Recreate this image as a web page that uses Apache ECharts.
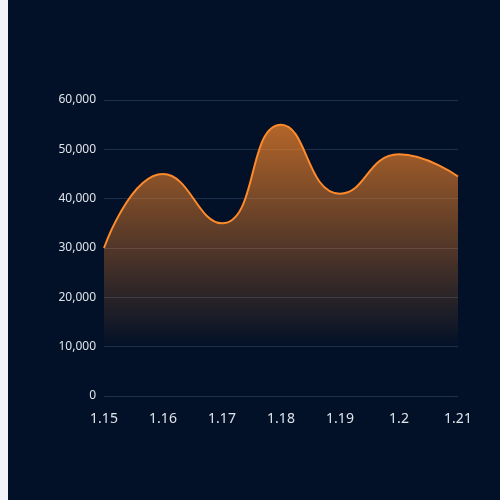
<!DOCTYPE html>
<html lang="en">
<head>
    <meta charset="UTF-8">
    <title>area</title>
    <script src="https://cdn.jsdelivr.net/npm/echarts@6/dist/echarts.min.js"></script>
    <style>
        html, body { margin: 0; padding: 0; background: #f2f4f9; }
        #main { position: absolute; left: 8px; top: 0; width: 492px; height: 500px; background: #031128; }
    </style>
</head>
<body>
    <div id="main"></div>
    <script>
        // data
        var days = ['1.15', '1.16', '1.17', '1.18', '1.19', '1.2', '1.21'];
        var amounts = [30000, 45000, 35000, 55000, 41000, 49000, 44500];

        var myChart = echarts.init(document.getElementById('main'));
        var option = {
            textStyle: { fontFamily: 'Noto Sans' },
            grid: { left: 96, right: 42, top: 100, bottom: 104 },
            xAxis: {
                type: 'category',
                boundaryGap: false,
                data: days,
                axisLine: { show: false },
                axisTick: { show: false },
                axisLabel: { color: '#dfe3ea', fontSize: 14, margin: 16 }
            },
            yAxis: {
                type: 'value',
                min: 0,
                max: 60000,
                interval: 10000,
                axisLabel: { color: '#dfe3ea', fontSize: 12 },
                splitLine: { lineStyle: { color: '#1e2f4c' } }
            },
            series: [{
                type: 'line',
                data: amounts,
                smooth: true,
                symbol: 'none',
                lineStyle: { color: '#ff8a2a', width: 2 },
                areaStyle: {
                    opacity: 1,
                    color: new echarts.graphic.LinearGradient(0, 0, 0, 1, [
                        { offset: 0, color: 'rgba(255,138,42,0.7)' },
                        { offset: 0.82, color: 'rgba(255,138,42,0)' }
                    ])
                }
            }]
        };
        myChart.setOption(option);
    </script>
</body>
</html>
